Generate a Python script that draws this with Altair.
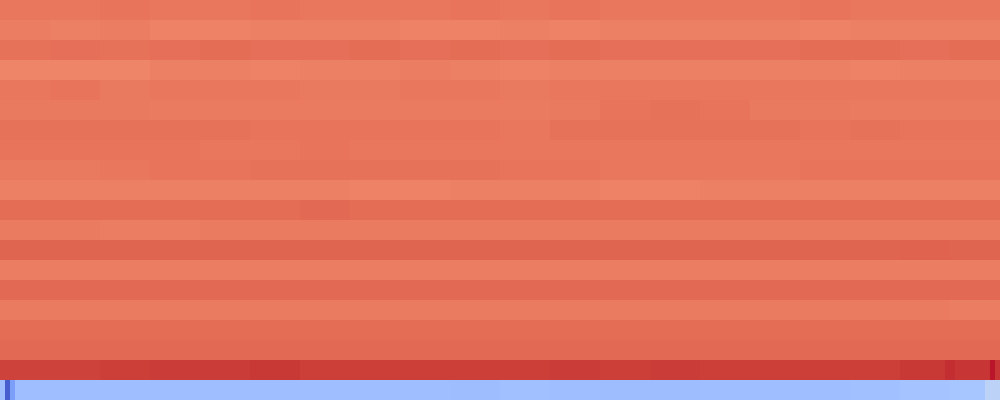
import altair as alt
import pandas as pd

# Heatmap: 20 rows, each split into 20 segments (each segment = 10 units of 200 column units)
row_names = [f"R{i+1}" for i in range(20)]
n_units = 200
seg_len = 10

r01 = [0.66,0.66,0.67,0.66,0.66,0.67,0.66,0.66,0.66,0.67,0.66,0.67,0.66,0.66,0.66,0.66,0.67,0.66,0.66,0.66]
r02 = [0.63,0.62,0.63,0.61,0.61,0.62,0.62,0.62,0.61,0.61,0.62,0.61,0.62,0.62,0.62,0.62,0.61,0.62,0.62,0.62]
r03 = [0.68,0.69,0.68,0.69,0.70,0.69,0.69,0.70,0.69,0.70,0.69,0.70,0.69,0.69,0.69,0.69,0.70,0.70,0.69,0.70]
r04 = [0.60,0.60,0.60,0.62,0.62,0.61,0.62,0.62,0.63,0.62,0.61,0.62,0.62,0.62,0.62,0.62,0.62,0.61,0.62,0.62]
r05 = [0.66,0.67,0.65,0.66,0.66,0.66,0.65,0.65,0.66,0.66,0.65,0.66,0.66,0.66,0.66,0.66,0.66,0.66,0.66,0.66]
r06 = [0.65,0.65,0.65,0.64,0.64,0.64,0.64,0.64,0.64,0.64,0.64,0.65,0.67,0.68,0.67,0.65,0.65,0.64,0.64,0.64]
r07 = [0.68,0.68,0.68,0.68,0.68,0.67,0.67,0.67,0.67,0.67,0.66,0.68,0.68,0.68,0.68,0.68,0.67,0.68,0.67,0.67]
r08 = [0.67,0.67,0.67,0.67,0.66,0.66,0.67,0.66,0.66,0.66,0.66,0.66,0.66,0.66,0.66,0.66,0.66,0.66,0.66,0.66]
r09 = [0.65,0.65,0.66,0.67,0.67,0.68,0.68,0.68,0.68,0.68,0.67,0.67,0.66,0.66,0.66,0.66,0.67,0.67,0.67,0.67]
r10 = [0.62,0.62,0.62,0.62,0.62,0.62,0.62,0.61,0.61,0.62,0.62,0.62,0.61,0.61,0.62,0.62,0.62,0.62,0.62,0.62]
r11 = [0.70,0.70,0.70,0.70,0.70,0.70,0.71,0.70,0.70,0.70,0.70,0.70,0.70,0.70,0.70,0.70,0.70,0.70,0.70,0.70]
r12 = [0.64,0.64,0.63,0.63,0.64,0.64,0.64,0.64,0.64,0.64,0.64,0.64,0.64,0.64,0.64,0.64,0.64,0.64,0.64,0.64]
r13 = [0.73,0.73,0.73,0.73,0.73,0.73,0.73,0.73,0.73,0.73,0.73,0.73,0.73,0.73,0.73,0.73,0.73,0.73,0.74,0.73]
r14 = [0.63,0.63,0.63,0.63,0.63,0.63,0.63,0.63,0.63,0.63,0.63,0.63,0.63,0.63,0.63,0.63,0.63,0.63,0.63,0.63]
r15 = [0.71,0.71,0.71,0.71,0.71,0.71,0.71,0.71,0.71,0.71,0.71,0.71,0.71,0.71,0.71,0.71,0.71,0.71,0.71,0.71]
r16 = [0.64,0.64,0.64,0.64,0.64,0.64,0.64,0.64,0.64,0.64,0.64,0.64,0.64,0.64,0.64,0.64,0.64,0.64,0.64,0.63]
r17 = [0.70,0.70,0.70,0.70,0.70,0.70,0.70,0.70,0.70,0.70,0.70,0.70,0.70,0.70,0.70,0.70,0.70,0.70,0.70,0.70]
r18 = [0.715,0.715,0.715,0.715,0.715,0.715,0.715,0.715,0.715,0.715,0.715,0.715,0.715,0.715,0.715,0.715,0.715,0.715,0.715,0.715]
r19 = [0.86,0.86,0.87,0.88,0.88,0.89,0.87,0.87,0.87,0.87,0.87,0.88,0.87,0.88,0.87,0.87,0.87,0.87,0.89,0.90]
r20 = [-0.40,-0.40,-0.40,-0.40,-0.40,-0.40,-0.40,-0.40,-0.40,-0.41,-0.39,-0.40,-0.41,-0.41,-0.40,-0.40,-0.40,-0.39,-0.37,-0.35]
rows = [r01,r02,r03,r04,r05,r06,r07,r08,r09,r10,r11,r12,r13,r14,r15,r16,r17,r18,r19,r20]

# Narrow notable cells (row index, start unit, end unit, value)
spike_row = [19, 19, 18, 18, 19]
spike_x0 = [1, 2, 189, 198, 197]
spike_x1 = [2, 3, 191, 199, 200]
spike_val = [-0.92, -0.6, 0.92, 0.97, -0.22]

# coolwarm colour stops
cw = ["#3b4cc0","#445acc","#4d68d7","#5775e1","#6282ea","#6c8ef1","#779af7","#82a5fb",
      "#8db0fe","#98b9ff","#a3c2ff","#aec9fd","#b8d0f9","#c2d5f4","#ccd9ee","#d5dbe6",
      "#dddddd","#e5d8d1","#ecd3c5","#f1ccb8","#f5c4ac","#f7bb9f","#f7b193","#f7a686",
      "#f49a7b","#f18d6f","#ec7f63","#e57058","#de604d","#d55042","#cb3e38","#c0282f","#b40426"]
cw_domain = [-1 + 2 * i / (len(cw) - 1) for i in range(len(cw))]

recs = []
for ri, vals in enumerate(rows):
    for si, v in enumerate(vals):
        recs.append({"row": row_names[ri], "x0": si * seg_len, "x1": (si + 1) * seg_len, "v": v})
for r, a, b, v in zip(spike_row, spike_x0, spike_x1, spike_val):
    recs.append({"row": row_names[r], "x0": a, "x1": b, "v": v})
df = pd.DataFrame(recs)

chart = alt.Chart(df).mark_rect(strokeWidth=0).encode(
    x=alt.X("x0:Q", axis=None, scale=alt.Scale(domain=[0, n_units], nice=False, zero=False)),
    x2="x1:Q",
    y=alt.Y("row:O", axis=None, sort=row_names,
            scale=alt.Scale(paddingInner=0, paddingOuter=0)),
    color=alt.Color("v:Q", legend=None,
                    scale=alt.Scale(domain=cw_domain, range=cw, interpolate="rgb")),
).properties(width=1000, height=400, padding=0, autosize="none").configure_view(strokeWidth=0)

chart.save("out.html", embed_options={"renderer": "svg", "actions": False})
